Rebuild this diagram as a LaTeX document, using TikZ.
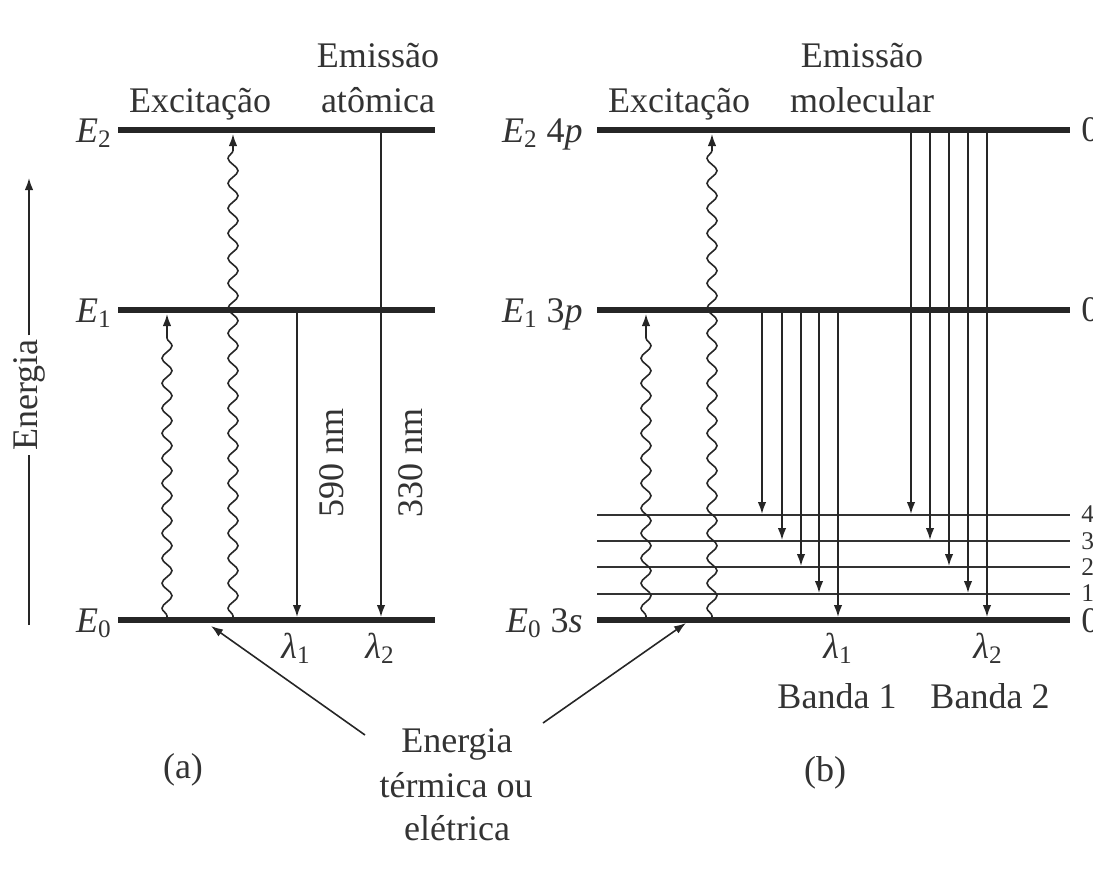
\documentclass[tikz,border=0pt]{standalone}
\usepackage{fontspec}
\setmainfont{Liberation Serif}
\usetikzlibrary{arrows.meta,decorations.pathmorphing}
\begin{document}
\begin{tikzpicture}[x=0.02cm,y=-0.02cm,
  txt/.style={font=\fontsize{20.5}{24}\selectfont,inner sep=0pt,text=black!80},
  small/.style={font=\fontsize{14.5}{16}\selectfont,inner sep=0pt,text=black!80},
  thicklevel/.style={line width=0.11cm,black!85},
  thinlevel/.style={line width=0.04cm,black!80},
  emit/.style={line width=0.032cm,black!85,-{Latex[length=0.24cm,width=0.17cm]}},
  excite/.style={line width=0.032cm,black!85,-{Latex[length=0.24cm,width=0.17cm]},decorate,
    decoration={snake,segment length=0.5cm,amplitude=0.1cm,pre length=0.04cm,post length=0.28cm}},
  pointer/.style={line width=0.032cm,black!85,-{Latex[length=0.24cm,width=0.17cm]}},
  plain/.style={line width=0.032cm,black!85},
]
\useasboundingbox (0,0) rectangle (1093,870);
\clip (0,0) rectangle (1093,870);

% ---------------- Energy axis ----------------
\node[txt,rotate=90,inner xsep=2pt] (energia) at (29,395) {Energia};
\coordinate (axbot) at (29,625);
\coordinate (axtop) at (29,178);
\draw[plain] (axbot) -- (energia.west);
\draw[emit] (energia.east) -- (axtop);

% ---------------- Panel (a) ----------------
\coordinate (a2L) at (118,130); \coordinate (a2R) at (435,130);
\coordinate (a1L) at (118,310); \coordinate (a1R) at (435,310);
\coordinate (a0L) at (118,620); \coordinate (a0R) at (435,620);
\draw[thicklevel] (a2L) -- (a2R);
\draw[thicklevel] (a1L) -- (a1R);
\draw[thicklevel] (a0L) -- (a0R);

\node[txt,anchor=base east] (aE2) at (112,142) {\textit{E}\textsubscript{2}};
\node[txt,anchor=base east] (aE1) at (112,322) {\textit{E}\textsubscript{1}};
\node[txt,anchor=base east] (aE0) at (112,632) {\textit{E}\textsubscript{0}};

\node[txt,anchor=base] (aexc) at (200,112) {Excitação};
\node[txt,anchor=base] (aem1) at (378,67) {Emissão};
\node[txt,anchor=base] (aem2) at (378,112) {atômica};

\coordinate (ax1s) at (167,618); \coordinate (ax1e) at (167,314);
\coordinate (ax2s) at (233,618); \coordinate (ax2e) at (233,134);
\draw[excite] (ax1s) -- (ax1e);
\draw[excite] (ax2s) -- (ax2e);

\coordinate (ae1s) at (297,310); \coordinate (ae1e) at (297,617);
\coordinate (ae2s) at (381,130); \coordinate (ae2e) at (381,617);
\draw[emit] (ae1s) -- (ae1e);
\draw[emit] (ae2s) -- (ae2e);

\node[txt,rotate=90] (n590) at (332,463) {590 nm};
\node[txt,rotate=90] (n330) at (411,463) {330 nm};

\node[txt,anchor=base] (al1) at (296,658) {\textit{λ}\textsubscript{1}};
\node[txt,anchor=base] (al2) at (380,658) {\textit{λ}\textsubscript{2}};

\node[txt] (alab) at (183,770) {(a)};

% ---------------- Energy source text ----------------
\node[txt,anchor=base] (src1) at (457,752) {Energia};
\node[txt,anchor=base] (src2) at (456,797) {térmica ou};
\node[txt,anchor=base] (src3) at (457,840) {elétrica};
\coordinate (pa) at (365,735); \coordinate (pah) at (211,626);
\coordinate (pb) at (543,723); \coordinate (pbh) at (686,623);
\draw[pointer] (pa) -- (pah);
\draw[pointer] (pb) -- (pbh);

% ---------------- Panel (b) ----------------
\coordinate (b2L) at (597,130); \coordinate (b2R) at (1070,130);
\coordinate (b1L) at (597,310); \coordinate (b1R) at (1070,310);
\coordinate (b0L) at (597,620); \coordinate (b0R) at (1070,620);
\coordinate (v4L) at (597,515); \coordinate (v4R) at (1070,515);
\coordinate (v3L) at (597,541); \coordinate (v3R) at (1070,541);
\coordinate (v2L) at (597,567); \coordinate (v2R) at (1070,567);
\coordinate (v1L) at (597,594); \coordinate (v1R) at (1070,594);
\draw[thicklevel] (b2L) -- (b2R);
\draw[thicklevel] (b1L) -- (b1R);
\draw[thicklevel] (b0L) -- (b0R);
\draw[thinlevel] (v4L) -- (v4R);
\draw[thinlevel] (v3L) -- (v3R);
\draw[thinlevel] (v2L) -- (v2R);
\draw[thinlevel] (v1L) -- (v1R);

\node[txt,anchor=west] (r2) at (1081,130) {0};
\node[txt,anchor=west] (r1) at (1081,310) {0};
\node[small,anchor=west] (r4) at (1081,514) {4};
\node[small,anchor=west] (r3) at (1081,541) {3};
\node[small,anchor=west] (rr2) at (1081,567) {2};
\node[small,anchor=west] (rr1) at (1081,593) {1};
\node[txt,anchor=west] (r0) at (1081,621) {0};

\node[txt,anchor=base east] (bE2) at (583,142) {\textit{E}\textsubscript{2} 4\textit{p}};
\node[txt,anchor=base east] (bE1) at (583,322) {\textit{E}\textsubscript{1} 3\textit{p}};
\node[txt,anchor=base east] (bE0) at (583,632) {\textit{E}\textsubscript{0} 3\textit{s}};

\node[txt,anchor=base] (bexc) at (679,112) {Excitação};
\node[txt,anchor=base] (bem1) at (862,67) {Emissão};
\node[txt,anchor=base] (bem2) at (862,112) {molecular};

\coordinate (bx1s) at (646,618); \coordinate (bx1e) at (646,314);
\coordinate (bx2s) at (712,618); \coordinate (bx2e) at (712,134);
\draw[excite] (bx1s) -- (bx1e);
\draw[excite] (bx2s) -- (bx2e);

% Band 1: from E1 to vibrational levels
\foreach \x/\y [count=\i] in {762/514, 782/540, 801/566, 819/593, 838/617}{
  \coordinate (p1s\i) at (\x,310);
  \coordinate (p1e\i) at (\x,\y);
  \draw[emit] (p1s\i) -- (p1e\i);
}
% Band 2: from E2 to vibrational levels
\foreach \x/\y [count=\i] in {911/514, 930/540, 949/566, 968/593, 987/617}{
  \coordinate (p2s\i) at (\x,130);
  \coordinate (p2e\i) at (\x,\y);
  \draw[emit] (p2s\i) -- (p2e\i);
}

\node[txt,anchor=base] (bl1) at (838,658) {\textit{λ}\textsubscript{1}};
\node[txt,anchor=base] (bl2) at (988,658) {\textit{λ}\textsubscript{2}};
\node[txt,anchor=base] (band1) at (837,708) {Banda 1};
\node[txt,anchor=base] (band2) at (990,708) {Banda 2};

\node[txt] (blab) at (825,773) {(b)};
\end{tikzpicture}
\end{document}
